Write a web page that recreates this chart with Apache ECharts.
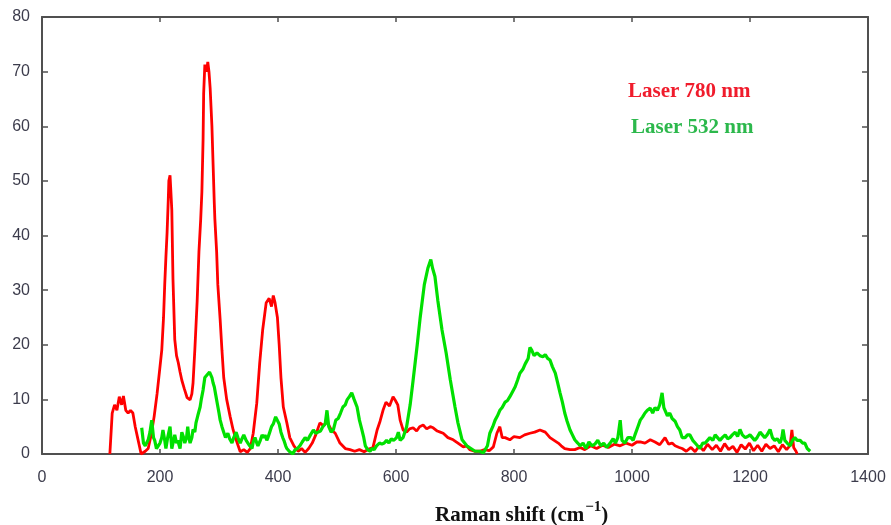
<!DOCTYPE html>
<html><head><meta charset="utf-8">
<script src="https://cdn.jsdelivr.net/npm/echarts@6/dist/echarts.min.js"></script>
<style>html,body{margin:0;padding:0;background:#fff}#c{width:891px;height:525px}</style>
</head><body><div id="c"></div>
<script>
// Raman shift (cm^-1) and intensity, Laser 780 nm
const redX = [115,119,123,127,131,135,138,142,146,150,154,158,162,165,168,175,180,185,190,195,199,203,206,208,210,212,214,215,217,218,220,222,225,228,231,234,237,241,246,251,254,256,259,263,266,269,271,273,274,276,279,281,283,285,288,290,292,293,296,298,302,305,308,313,319,324,329,336,342,348,353,358,364,369,374,380,385,389,392,395,399,402,405,409,415,420,427,434,440,446,452,458,464,471,477,483,490,497,505,514,522,530,538,546,554,561,568,573,578,583,589,595,599,603,607,612,618,623,629,635,640,646,652,658,663,670,675,680,688,697,705,714,720,725,733,742,750,758,765,771,776,780,785,793,800,810,818,827,835,844,853,861,868,875,880,886,895,903,912,920,930,940,950,960,970,980,990,1000,1008,1014,1022,1031,1039,1047,1056,1062,1068,1073,1080,1085,1092,1100,1107,1114,1121,1128,1136,1143,1150,1157,1164,1171,1178,1185,1192,1199,1206,1213,1220,1227,1234,1241,1248,1255,1262,1268,1271,1274,1278,1280];
const redY = [0,7.5,9,8,10.5,9,10.6,8,7.5,8,7.5,5,3,1.5,0,0.5,1,3.5,6.8,11,15,19,25,31,36,40.5,46.5,50,51,49,44.7,32,21,18,16.7,15,13.5,12,10.3,9.9,11,13,19,28,37,43,48,57.5,66,71.3,70,71.8,70,67,60,53,46,43,37,31,24.5,19,14,10,6.8,4.4,2.6,0.4,0.8,0.3,1,3.8,9.3,16.7,22.7,27.7,28.5,27,29,27.7,25,20,14,8.6,5.7,3,1.5,0.5,1,0.3,1,2,3.5,5.7,5.2,5.9,4.5,3.8,2,1,0.8,0.5,0.8,0.4,0.9,1.2,4.4,6,8,9.5,8.8,10.5,9.8,9,6.2,4.4,4,4.6,4.8,4.2,5,5.3,4.6,5,4.8,4.2,4,3.8,3,2.6,2,1.3,1.5,0.8,0.5,0.5,0.8,0.6,1.3,3.8,5,3,3,2.6,3.2,3,3.5,3.8,4,4.4,4,3,2.5,2,1.5,1,0.8,0.8,1.2,0.8,1.5,1,1.6,1.2,1.8,1.5,2,1.6,2.2,2.2,2,2.6,2.2,1.7,3,1.8,2,1.5,1.2,1,0.5,1.2,0.4,1.5,0.6,1.8,0.8,1.6,0.5,1.9,0.8,1.4,0.3,1.7,0.9,2,0.6,1.6,0.5,1.8,1,1.5,0.4,1.7,0.8,1.6,4.4,1.2,0.5,0];

// Laser 532 nm
const greenX = [169,172,175,180,183,186,189,191,194,197,200,203,205,208,210,213,217,220,223,225,228,230,234,237,240,242,245,247,249,251,254,256,259,261,264,268,270,273,276,280,284,288,290,292,295,297,300,302,305,308,311,315,318,322,325,329,332,336,339,342,346,349,352,356,358,361,364,366,370,373,376,378,381,383,386,389,392,396,399,402,405,408,410,413,415,419,422,425,429,433,437,441,446,450,455,460,464,468,472,476,480,483,486,490,494,498,502,506,510,514,517,521,525,529,534,538,542,545,548,552,556,559,563,567,572,576,580,584,588,592,596,601,604,607,612,618,624,629,636,641,648,654,659,662,666,671,678,685,692,700,705,712,720,727,734,742,748,751,755,759,764,768,772,776,780,785,789,793,798,802,806,810,815,819,824,827,830,834,839,844,849,853,857,861,865,870,874,878,882,886,890,895,899,903,908,912,917,922,927,932,937,942,947,952,957,963,968,972,976,980,983,988,993,998,1002,1005,1010,1014,1018,1022,1026,1031,1035,1039,1043,1047,1051,1054,1056,1060,1064,1068,1073,1077,1081,1085,1090,1094,1098,1103,1107,1111,1115,1120,1124,1128,1132,1137,1141,1145,1149,1153,1158,1162,1166,1170,1175,1179,1183,1187,1192,1196,1200,1204,1208,1212,1217,1221,1225,1229,1234,1238,1242,1246,1251,1254,1256,1259,1263,1268,1272,1276,1280,1285,1289,1293,1297,1302];
const greenY = [4.8,2,1.5,2.6,4,6.2,3,2.5,1,0.7,2,3,4.4,2.5,1,3,5,1,2.5,3.5,2,2.5,1,4,3,2,3,5,3,2,3,4.5,4,5.7,7,8.6,10,11.7,14,14.5,15,14,13,12.3,10.5,9.3,7.5,6.2,5,4,3,3.8,2.8,2,3,4,3,2,2.8,3.5,2.5,2,1.5,1,2.2,3,2,1.5,2.5,3.5,3,3.5,2.5,3,4,5,5.5,6.8,7,5.5,4,3,2.5,1.5,1,0.5,0.3,0,0.8,1,1.5,2.2,3,2.5,3.5,4.4,3.8,4,4.2,5,5.5,8,5,4,4.5,6.2,6.5,7.5,8.6,9,9.9,10.5,11.2,10,8.6,6.2,4.5,3.2,1.5,0.8,0.5,1,0.8,1.5,2,1.8,2,2.5,2,2.8,2.5,3,4,2.5,3,5,9,13.5,20,25,31,34,35.6,34,32.5,28,22.7,18.5,13.6,8.6,5.7,2.6,1.5,1,0.5,0.5,0.2,0,1.5,3.8,5,6.2,7,8,8.5,9.5,9.8,10.5,11.5,12.3,13.5,14.8,15.5,16.5,17.5,19.5,19,18,18.5,18,17.8,18.2,17.5,17.2,16,14.8,13,11.2,9.5,7.5,6,4.4,3.5,2.6,2,1.5,2,1,2.2,1.5,1.8,2.5,1.5,2,1.2,2,2.8,2,3,6.2,2.5,2,3,3,2.5,3.5,5,6.2,6.8,7.5,8,8.4,7.5,8.5,8,9,11.2,8.5,8,7,7.5,6.5,6,5,4.4,3,3,3.5,3.5,2.5,2,1.5,1,2,2,2.5,3,2.5,3.5,3,2.5,3,3.5,2.8,3,3.5,4,3.2,4.5,3.5,3,3.2,3.5,3,2.5,3,4,3.5,3,3.5,4.5,3,2.5,2.8,2,3,4.5,2.5,2,1.5,2.5,3,2.5,2.5,2,2,1,0.5];

const xTicks = [0,200,400,600,800,1000,1200,1400];
const yTicks = [0,10,20,30,40,50,60,70,80];
const seriesNames = ['Laser 780 nm','Laser 532 nm'];
const xTitle = 'Raman shift (cm';
const xTitleSup = '−1';

const zip = (a,b) => a.map((v,i)=>[v,b[i]]);
const chart = echarts.init(document.getElementById('c'), null, {renderer:'canvas'});
const axisCol = '#505050';
const lblCol = '#3c3c4c';
const lblFont = 'Liberation Sans';
const fmt = v => String(v);
chart.setOption({
  animation:false,
  backgroundColor:'#fff',
  grid:{left:42,right:23,top:17,bottom:71},
  xAxis:[{
    type:'value',min:xTicks[0],max:xTicks[xTicks.length-1],interval:200,
    axisLine:{show:true,onZero:false,lineStyle:{color:axisCol,width:2}},
    axisTick:{show:true,inside:true,length:5,lineStyle:{color:axisCol,width:1.5}},
    axisLabel:{color:lblCol,fontFamily:lblFont,fontSize:16,margin:16,formatter:fmt},
    splitLine:{show:false}
  },{
    type:'value',position:'top',min:xTicks[0],max:xTicks[xTicks.length-1],interval:200,
    axisLine:{show:true,onZero:false,lineStyle:{color:axisCol,width:2}},
    axisTick:{show:true,inside:true,length:5,lineStyle:{color:axisCol,width:1.5}},
    axisLabel:{show:false},splitLine:{show:false}
  }],
  yAxis:[{
    type:'value',min:yTicks[0],max:yTicks[yTicks.length-1],interval:10,
    axisLine:{show:true,onZero:false,lineStyle:{color:axisCol,width:2}},
    axisTick:{show:true,inside:true,length:6,lineStyle:{color:axisCol,width:1.5}},
    axisLabel:{color:lblCol,fontFamily:lblFont,fontSize:16,margin:12,formatter:fmt},
    splitLine:{show:false}
  },{
    type:'value',position:'right',min:yTicks[0],max:yTicks[yTicks.length-1],interval:10,
    axisLine:{show:true,onZero:false,lineStyle:{color:axisCol,width:2}},
    axisTick:{show:true,inside:true,length:6,lineStyle:{color:axisCol,width:1.5}},
    axisLabel:{show:false},splitLine:{show:false}
  }],
  series:[{
    name:seriesNames[0],type:'line',showSymbol:false,symbol:'none',
    data:zip(redX,redY),lineStyle:{color:'#ff0000',width:2.8},z:3
  },{
    name:seriesNames[1],type:'line',showSymbol:false,symbol:'none',
    data:zip(greenX,greenY),lineStyle:{color:'#00e000',width:3.2},z:4
  }],
  graphic:[
    {type:'text',left:628,top:81,style:{text:seriesNames[0],fill:'#f01c2c',font:'bold 21px "Liberation Serif"'}},
    {type:'text',left:631,top:117,style:{text:seriesNames[1],fill:'#2cb84c',font:'bold 21px "Liberation Serif"'}},
    {type:'text',left:435,top:500,style:{
      text:'{a|'+xTitle+'}{s|'+xTitleSup+'}{a|)}',
      rich:{
        a:{fontFamily:'Liberation Serif',fontWeight:'bold',fontSize:21,fill:'#111',verticalAlign:'bottom',lineHeight:26},
        s:{fontFamily:'Liberation Serif',fontWeight:'bold',fontSize:15,fill:'#111',verticalAlign:'top',padding:[0,0,10,1],lineHeight:26}
      }
    }}
  ]
});
</script></body></html>
